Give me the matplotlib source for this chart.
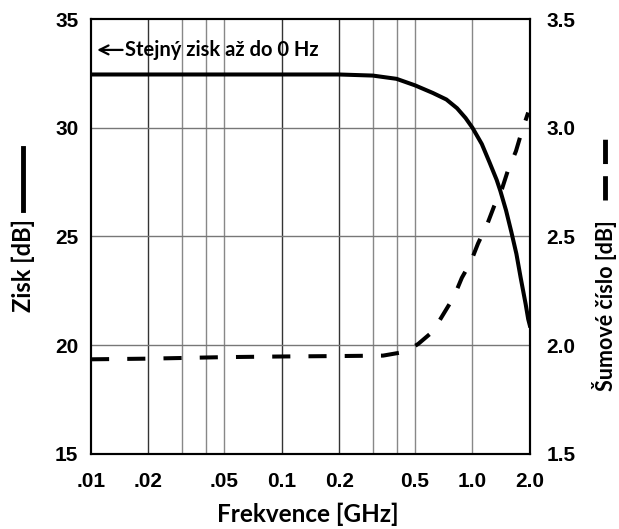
import matplotlib.pyplot as plt
from matplotlib.lines import Line2D

# Gain vs. frequency (left axis)
gain_freq = [0.01, 0.1, 0.2, 0.3, 0.4, 0.5, 0.62, 0.73, 0.83, 0.92, 1.0,
             1.12, 1.23, 1.34, 1.4, 1.5, 1.6, 1.7, 1.79, 1.9, 1.96, 2.0]
gain_db = [32.45, 32.45, 32.45, 32.4, 32.25, 31.95, 31.6, 31.3, 30.9, 30.45,
           30.0, 29.25, 28.4, 27.6, 27.1, 26.2, 25.2, 24.2, 23.1, 21.9,
           21.2, 20.9]

# Noise figure vs. frequency (right axis)
nf_freq = [0.01, 0.02, 0.05, 0.1, 0.2, 0.34, 0.42, 0.47, 0.52, 0.62, 0.71,
           0.80, 0.88, 0.98, 1.07, 1.2, 1.3, 1.43, 1.53, 1.69, 1.81, 1.96]
nf_db = [1.935, 1.938, 1.945, 1.948, 1.95, 1.952, 1.966, 1.982, 2.006,
         2.063, 2.148, 2.223, 2.31, 2.383, 2.468, 2.56, 2.64, 2.72, 2.8,
         2.892, 2.98, 3.07]

xticks = [0.01, 0.02, 0.05, 0.1, 0.2, 0.5, 1.0, 2.0]
xticklabels = [".01", ".02", ".05", "0.1", "0.2", "0.5", "1.0", "2.0"]
dark_grid = [0.02, 0.1, 0.2]
light_grid = [0.03, 0.04, 0.05, 0.3, 0.4, 0.5, 1.0]

tick_font = dict(family="Liberation Sans", weight="bold", size=15)
label_family = ["Lato", "DejaVu Sans"]

fig = plt.figure(figsize=(6.19, 5.29), dpi=100)
ax = fig.add_axes([0.147, 0.142, 0.709, 0.822])
ax2 = ax.twinx()

ax.set_xscale("log")
ax.set_xlim(0.01, 2.0)
ax.set_ylim(15, 35)
ax2.set_ylim(1.5, 3.5)

# grid
for f in dark_grid:
    ax.axvline(f, color="#333333", lw=1.0, zorder=1)
for f in light_grid:
    ax.axvline(f, color="#888888", lw=1.0, zorder=1)
for g in [20, 25, 30]:
    ax.axhline(g, color="#777777", lw=1.0, zorder=1)

ax.plot(gain_freq, gain_db, color="black", lw=2.9, zorder=3)
ax2.plot(nf_freq, nf_db, color="black", lw=2.9, dashes=(4.5, 4.5),
         solid_capstyle="butt", zorder=3)

ax.set_xticks(xticks)
ax.set_xticklabels(xticklabels, fontdict=tick_font)
ax.xaxis.set_minor_locator(plt.NullLocator())
ax.set_yticks([15, 20, 25, 30, 35])
ax.set_yticklabels(["15", "20", "25", "30", "35"], fontdict=tick_font)
ax2.set_yticks([1.5, 2.0, 2.5, 3.0, 3.5])
ax2.set_yticklabels(["1.5", "2.0", "2.5", "3.0", "3.5"], fontdict=tick_font)

ax.tick_params(axis="x", length=0, pad=13)
ax.tick_params(axis="y", length=0, pad=9)
ax2.tick_params(axis="y", length=0, pad=12)

for a in (ax, ax2):
    for s in a.spines.values():
        s.set_linewidth(1.5)

fig.text(0.497, 0.027, "Frekvence [GHz]", ha="center", va="center",
         family=label_family, weight="bold", size=17.5)

# note about flat gain down to DC
ax.annotate("", xy=(0.014, 0.929), xytext=(0.072, 0.929),
            xycoords="axes fraction", textcoords="axes fraction",
            arrowprops=dict(arrowstyle="->", lw=1.6, color="black",
                            mutation_scale=16, shrinkA=0, shrinkB=0))
ax.text(0.0775, 0.929, "Stejný zisk až do 0 Hz", transform=ax.transAxes,
        ha="left", va="center", fontsize=14.5, fontweight="bold",
        family=label_family)

# axis titles with line-style keys
fig.text(0.037, 0.499, "Zisk [dB]", rotation=90, ha="center", va="center",
         family=label_family, weight="bold", size=17)
fig.add_artist(Line2D([0.037, 0.037], [0.603, 0.720], color="black", lw=3.5))

fig.text(0.977, 0.423, "Šumové číslo [dB]", rotation=90, ha="center",
         va="center", family=label_family, weight="bold", size=15.5)
fig.add_artist(Line2D([0.977, 0.977], [0.622, 0.745], color="black", lw=3.5,
                      dashes=(5, 2.5)))

fig.savefig("out.png", dpi=100)
